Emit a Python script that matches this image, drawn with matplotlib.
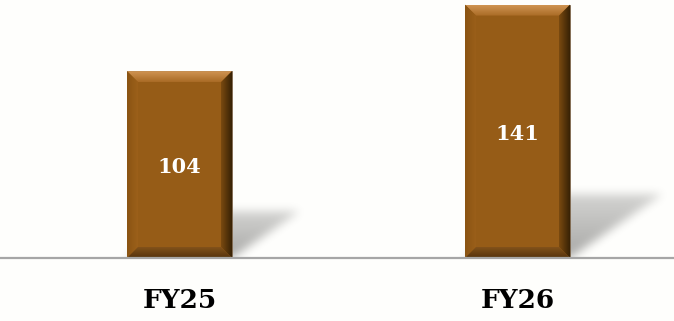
import numpy as np
import matplotlib
matplotlib.use('Agg')
import matplotlib.pyplot as plt
from matplotlib.patches import Polygon
from matplotlib.colors import to_rgb

categories = ['FY25', 'FY26']
values = [104, 141]

W, H = 674, 321
BG = '#fefefc'
MAIN = '#965c17'

fig = plt.figure(figsize=(W / 100, H / 100), dpi=100)
fig.patch.set_facecolor(BG)
base_px = 258
ax = fig.add_axes([0, (H - base_px) / H, 1, base_px / H])
ax.set_facecolor(BG)
xlim = (-179.5 / 338, (W - 179.5) / 338)
ymax = base_px / 1.797
ax.set_xlim(*xlim)
ax.set_ylim(0, ymax)
ax.axis('off')

sx = (xlim[1] - xlim[0]) / W
sy = ymax / base_px
width = 105 * sx

x = np.arange(len(categories))
bars = ax.bar(x, values, width=width, color=MAIN, zorder=2,
              edgecolor='#7a6650', linewidth=0.6)


def box_blur(a, r, n=3):
    k = np.ones(2 * r + 1) / (2 * r + 1)
    for _ in range(n):
        a = np.apply_along_axis(lambda m: np.convolve(m, k, mode='same'), 0, a)
        a = np.apply_along_axis(lambda m: np.convolve(m, k, mode='same'), 1, a)
    return a


def grad_face(poly, c0, c1, direction, extent):
    n = 64
    t = np.linspace(0, 1, n)
    c0 = np.array(to_rgb(c0)); c1 = np.array(to_rgb(c1))
    cols = c0[None, :] * (1 - t[:, None]) + c1[None, :] * t[:, None]
    if direction == 'v':
        arr = cols[:, None, :]
    else:
        arr = cols[None, :, :]
    patch = Polygon(poly, closed=True, fill=False, lw=0)
    ax.add_patch(patch)
    im = ax.imshow(arr, extent=extent, origin='lower', aspect='auto',
                   interpolation='bilinear', zorder=3)
    im.set_clip_path(patch)


b = 11
bx, by = b * sx, b * sy
for rect, v in zip(bars, values):
    L = rect.get_x(); R = L + rect.get_width(); B = 0; T = v
    # perspective shadow behind the bar
    hpx = v / sy
    hs = 0.25 * hpx
    dx = 1.45 * hs
    wpx = rect.get_width() / sx
    pad = 20
    nx = int(wpx + dx + 2 * pad)
    ny = int(hs + 2 * pad)
    uu, vv = np.meshgrid(np.arange(nx) - pad, np.arange(ny) - pad)
    s = uu - vv * dx / hs
    inside = (vv >= 0) & (vv <= hs) & (s >= 0) & (s <= wpx)
    a = inside.astype(float) * (1 - 0.5 * np.clip(vv / hs, 0, 1))
    a = box_blur(a, 4, 3)
    a[vv < 0] = 0
    rgba = np.zeros((ny, nx, 4))
    rgba[..., 3] = 0.34 * a
    ext = (L - pad * sx, L + (nx - pad) * sx, -pad * sy, (ny - pad) * sy)
    ax.imshow(rgba, extent=ext, origin='lower', aspect='auto',
              interpolation='bilinear', zorder=1)

    # bevel faces
    grad_face([(L, T), (R, T), (R - bx, T - by), (L + bx, T - by)],
              '#a96b26', '#d09452', 'v', (L, R, T - by, T))
    grad_face([(L, B), (L, T), (L + bx, T - by), (L + bx, B + by)],
              '#8a5413', '#9c601a', 'h', (L, L + bx, B, T))
    grad_face([(R, B), (R, T), (R - bx, T - by), (R - bx, B + by)],
              '#7a4a10', '#382205', 'h', (R - bx, R, B, T))
    grad_face([(L, B), (R, B), (R - bx, B + by), (L + bx, B + by)],
              '#55330c', '#82521a', 'v', (L, R, B, B + by))

    ax.text(rect.get_x() + rect.get_width() / 2, v / 2 - 2.5 * sy, str(v),
            ha='center', va='center', color='white', fontsize=15,
            fontweight='bold', family='DejaVu Serif', zorder=5)

for xi, c in zip(x, categories):
    ax.text(xi, -42 * sy, c, ha='center', va='center', color='black',
            fontsize=19, fontweight='bold', family='DejaVu Serif',
            clip_on=False)

ax.axhline(0, color='#a6a6a6', lw=1.6, clip_on=False, zorder=4)
ax.set_xlim(*xlim)
ax.set_ylim(0, ymax)

fig.savefig('out.png', dpi=100, facecolor=BG)
